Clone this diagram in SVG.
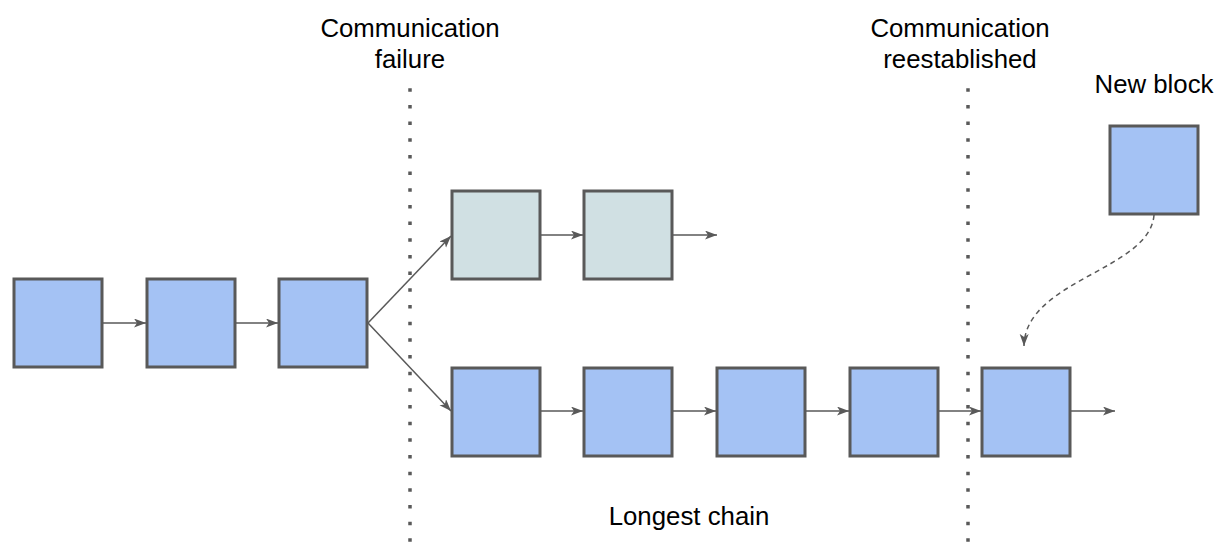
<svg xmlns="http://www.w3.org/2000/svg" width="1217" height="555" viewBox="0 0 1217 555">
  <style>
    .blk { fill: #a4c2f4; stroke: #595959; stroke-width: 3; }
    .fork { fill: #d0e0e3; stroke: #595959; stroke-width: 3; }
    .link { fill: none; stroke: #595959; stroke-width: 1.5; marker-end: url(#head); }
    .dash { stroke-dasharray: 5 4; }
    .cut { fill: none; stroke: #595959; stroke-width: 3.5; stroke-dasharray: 3.5 13.17; }
    .lbl { font-family: "Liberation Sans", Arial, sans-serif; font-size: 25.8px; fill: #000; text-anchor: middle; }
  </style>
  <defs>
    <marker id="head" markerUnits="userSpaceOnUse" markerWidth="14" markerHeight="11" refX="12" refY="4.5" orient="auto">
      <path d="M0,0 L12,4.5 L0,9 L3,4.5 Z" fill="#595959"/>
    </marker>
  </defs>

  <rect width="1217" height="555" fill="#ffffff"/>

  <!-- partition markers -->
  <g id="partitions">
    <line class="cut" x1="410" y1="88.25" x2="410" y2="555"/>
    <line class="cut" x1="968" y1="88.25" x2="968" y2="555"/>
  </g>

  <!-- labels -->
  <g id="labels">
    <text class="lbl" x="410" y="37">Communication</text>
    <text class="lbl" x="410" y="68">failure</text>
    <text class="lbl" x="960" y="37">Communication</text>
    <text class="lbl" x="960" y="68">reestablished</text>
    <text class="lbl" x="1154" y="93">New block</text>
    <text class="lbl" x="689" y="525">Longest chain</text>
  </g>

  <!-- connectors -->
  <g id="connectors">
    <line class="link" x1="102" y1="323" x2="146" y2="323"/>
    <line class="link" x1="235" y1="323" x2="278" y2="323"/>
    <line class="link" x1="368" y1="323" x2="451" y2="236"/>
    <line class="link" x1="368" y1="323" x2="451" y2="411"/>
    <line class="link" x1="540" y1="235" x2="583" y2="235"/>
    <line class="link" x1="672" y1="235" x2="717" y2="235"/>
    <line class="link" x1="540" y1="411" x2="583" y2="411"/>
    <line class="link" x1="672" y1="411" x2="716" y2="411"/>
    <line class="link" x1="805" y1="411" x2="849" y2="411"/>
    <line class="link" x1="938" y1="411" x2="981" y2="411"/>
    <line class="link" x1="1070" y1="411" x2="1115" y2="411"/>
    <path class="link dash" d="M1154,215 C1150,270 1025,280 1024,346"/>
  </g>

  <!-- blocks before the split -->
  <g id="block-1"><rect class="blk" x="14" y="279" width="88" height="88"/></g>
  <g id="block-2"><rect class="blk" x="147" y="279" width="88" height="88"/></g>
  <g id="block-3"><rect class="blk" x="279" y="279" width="88" height="88"/></g>

  <!-- short branch -->
  <g id="fork-1"><rect class="fork" x="452" y="191" width="88" height="88"/></g>
  <g id="fork-2"><rect class="fork" x="584" y="191" width="88" height="88"/></g>

  <!-- longest branch -->
  <g id="chain-1"><rect class="blk" x="452" y="368" width="88" height="88"/></g>
  <g id="chain-2"><rect class="blk" x="584" y="368" width="88" height="88"/></g>
  <g id="chain-3"><rect class="blk" x="717" y="368" width="88" height="88"/></g>
  <g id="chain-4"><rect class="blk" x="850" y="368" width="88" height="88"/></g>
  <g id="chain-5"><rect class="blk" x="982" y="368" width="88" height="88"/></g>

  <!-- incoming block -->
  <g id="new-block"><rect class="blk" x="1110" y="126" width="88" height="88"/></g>
</svg>
